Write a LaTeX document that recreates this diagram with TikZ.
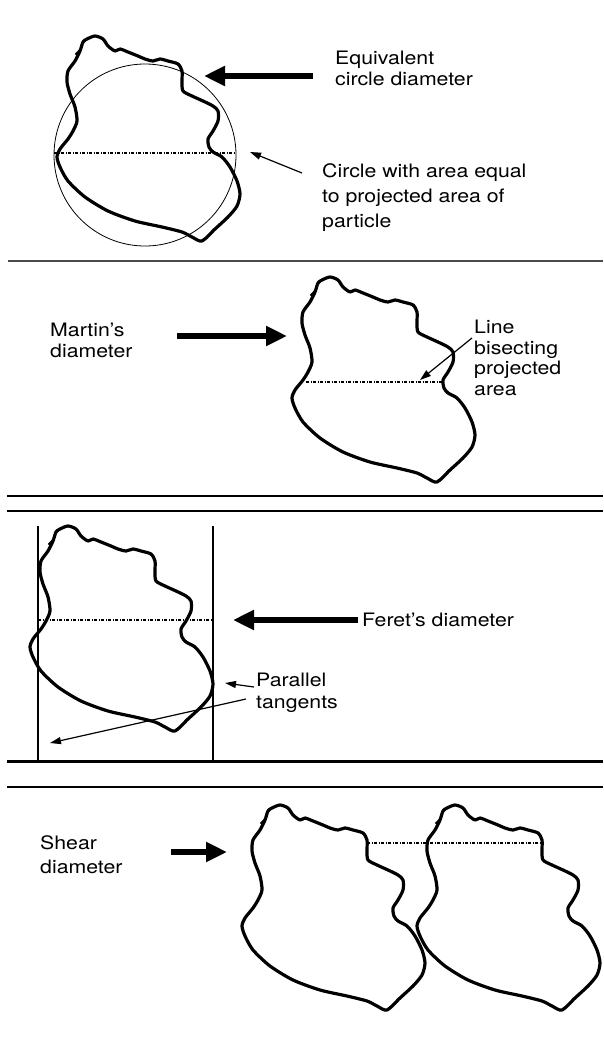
\documentclass[tikz,border=0pt]{standalone}
\usepackage{fontspec}
\setmainfont{TeX Gyre Heros}[FakeStretch=1.15]
\usetikzlibrary{arrows.meta}

\begin{document}
\begin{tikzpicture}[x=1pt, y=-1pt,
	note/.style = {align=left, anchor=north west, inner sep=0pt, font=\fontsize{18.5}{20.5}\selectfont},
	outline/.style = {line width=3.2pt, line join=round},
	bigarrow/.style = {line width=6.5pt, -{Triangle[length=21pt, width=19pt]}},
	thinarrow/.style = {line width=1.2pt, -{Triangle[length=11pt, width=7pt]}},
	diam/.style = {line width=1.5pt, dash pattern=on 3pt off 1.5pt on 1pt off 1.5pt},
	rule/.style = {line width=1.2pt},
	tangent/.style = {line width=1.5pt},
	grain/.pic = {
		\draw[outline] plot[smooth cycle, tension=0.45] coordinates {
			(32,5) (40,2) (48,5) (53,12) (60,17) (65,15) (73,18) (83,22) (90,25)
			(98,27) (105,25) (113,27) (123,30) (127,37) (127,48) (128,57) (137,62)
			(148,67) (158,72) (163,77) (163,87) (158,97) (153,105) (154,113) (158,118)
			(167,123) (175,133) (182,147) (185,160) (182,172) (173,183) (160,195)
			(147,207) (137,203) (127,198) (107,193) (80,187) (53,177) (30,163)
			(13,147) (5,133) (2,123) (5,115) (13,105) (18,97) (22,87) (20,73)
			(15,60) (12,48) (13,37) (20,27) (25,17) (28,8)};
		\draw[outline] (25,17) -- (21,21);
	}]
	\useasboundingbox (0,0) rectangle (603,1037);

	% panel rules
	\draw[line width=2pt, black!70] (8,261) -- (603,261);
	\draw[rule] (7,496) -- (603,496);
	\draw[rule] (7,511) -- (603,511);
	\draw[line width=3pt] (7,761) -- (603,761);
	\draw[line width=1.5pt] (7,787) -- (603,787);

	% equivalent circle
	\draw[line width=0.8pt] (145,155) circle (91);
	\pic at (55,34) {grain};
	\draw[diam] (54,153) -- (236,153);
	\node[note] (eq) at (335,51) {Equivalent\\circle diameter};
	\node[note, font=\fontsize{18.5}{25}\selectfont] (circ) at (322,163) {Circle with area equal\\to projected area of\\particle};
	\coordinate (eqtail) at (313,76);
	\coordinate (eqtip) at (204,76);
	\coordinate (circtail) at (302,173);
	\coordinate (circtip) at (250,152);
	\draw[bigarrow] (eqtail) -- (eqtip);
	\draw[thinarrow] (circtail) -- (circtip);

	% Martin's diameter
	\pic at (290,275) {grain};
	\draw[diam] (306,382) -- (443,382);
	\node[note] (martin) at (50,323) {Martin's\\diameter};
	\node[note] (bisect) at (474,320) {Line\\bisecting\\projected\\area};
	\coordinate (martail) at (177,336);
	\coordinate (martip) at (287,336);
	\coordinate (bistail) at (472,338);
	\coordinate (bistip) at (420,380);
	\draw[bigarrow] (martail) -- (martip);
	\draw[thinarrow] (bistail) -- (bistip);

	% Feret's diameter
	\pic at (28,524) {grain};
	\draw[tangent] (38,526) -- (38,761);
	\draw[tangent] (213,526) -- (213,761);
	\draw[diam] (38,620) -- (213,620);
	\node[note, anchor=west] (feret) at (362,620) {Feret's diameter};
	\node[note, font=\fontsize{18.5}{22}\selectfont] (par) at (256,673) {Parallel\\tangents};
	\coordinate (fertail) at (358,620);
	\coordinate (fertip) at (233,620);
	\coordinate (partail) at (254,687);
	\coordinate (partip) at (225,683);
	\coordinate (lowtail) at (246,699);
	\coordinate (lowtip) at (50,743);
	\draw[bigarrow] (fertail) -- (fertip);
	\draw[thinarrow] (partail) -- (partip);
	\draw[thinarrow] (lowtail) -- (lowtip);

	% shear diameter
	\pic at (240,803) {grain};
	\pic at (415,803) {grain};
	\draw[diam] (367,843) -- (542,843);
	\node[note, font=\fontsize{18.5}{24}\selectfont] (shear) at (40,835) {Shear\\diameter};
	\coordinate (sheartail) at (171,852);
	\coordinate (sheartip) at (227,852);
	\draw[bigarrow] (sheartail) -- (sheartip);
\end{tikzpicture}
\end{document}
